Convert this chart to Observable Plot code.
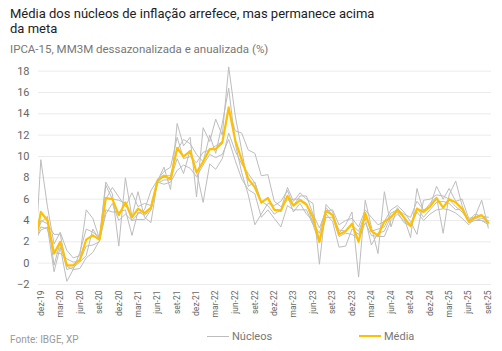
<!DOCTYPE html>
<html><head><meta charset="utf-8">
<script src="https://cdn.jsdelivr.net/npm/d3@7"></script>
<script src="https://cdn.jsdelivr.net/npm/@observablehq/plot@0.6"></script>
<style>
body{margin:0;background:#fff;font-family:Roboto,"Open Sans",sans-serif;}
#wrap{position:relative;width:502px;height:351px;overflow:hidden;background:#fff;}
#title{position:absolute;left:10px;top:6px;font-size:13px;line-height:15px;color:#222;}
#sub{position:absolute;left:10px;top:42px;font-size:11.5px;color:#777;}
#chart{position:absolute;left:0;top:58px;}
#fonte{position:absolute;left:10px;top:334px;font-size:10px;color:#999;}
.leg{position:absolute;top:329px;font-size:11px;color:#777;display:flex;align-items:center;height:14px;}
.sw{display:inline-block;width:22px;height:0;margin-right:3px;}
</style></head>
<body>
<div id="wrap">
  <div id="title">Média dos núcleos de inflação arrefece, mas permanece acima<br>da meta</div>
  <div id="sub">IPCA-15, MM3M dessazonalizada e anualizada (%)</div>
  <div id="chart"></div>
  <div id="fonte">Fonte: IBGE, XP</div>
  <div class="leg" style="left:207px"><span class="sw" style="border-top:1px solid #bdbdbd"></span>Núcleos</div>
  <div class="leg" style="left:359px"><span class="sw" style="border-top:2px solid #FFC000"></span>Média</div>
</div>
<script>
// meses: nov-19 .. set-25 (71 meses)
const nomesMes = ["jan","fev","mar","abr","mai","jun","jul","ago","set","out","nov","dez"];
const media = [1.6, 4.8, 4.0, 0.9, 2.0, -0.2, -0.2, 0.3, 2.2, 2.6,
  2.2, 6.1, 6.0, 4.5, 5.7, 4.3, 5.1, 4.7, 5.2, 7.7,
  8.2, 7.9, 10.8, 10.0, 10.5, 8.5, 9.5, 10.7, 10.7, 11.3,
  14.6, 11.5, 9.7, 7.9, 7.1, 5.7, 6.1, 5.0, 4.9, 6.3,
  5.4, 5.9, 5.5, 4.3, 2.0, 4.9, 4.5, 2.7, 3.0, 3.7,
  2.0, 4.7, 3.0, 2.6, 3.9, 4.3, 5.0, 4.3, 3.5, 5.1,
  4.8, 5.3, 6.1, 5.2, 6.0, 5.7, 5.1, 3.9, 4.3, 4.5,
  3.8];
const nucleoA = [-0.5, 9.7, 5.3, 1.8, 2.9, 1.2, 0.5, 0.7, 5.0, 4.2,
  2.3, 7.6, 6.5, 1.6, 8.0, 4.3, 6.7, 4.3, 3.8, 7.7,
  9.0, 6.9, 13.1, 11.0, 11.8, 6.2, 12.7, 11.4, 13.5, 12.0,
  18.4, 13.8, 10.6, 7.2, 7.6, 5.6, 6.2, 5.0, 5.0, 7.1,
  5.8, 6.6, 6.0, 5.6, -0.1, 5.5, 4.8, 2.8, 3.6, 4.8,
  -1.3, 5.9, 3.4, 0.9, 6.7, 3.4, 5.2, 4.3, 2.4, 7.0,
  4.8, 5.6, 6.2, 2.8, 6.4, 7.7, 5.4, 3.9, 4.4, 5.9,
  3.3];
const nucleoB = [2.3, 4.0, 3.7, 2.7, 2.7, -0.3, -0.6, 1.0, 3.2, 2.9,
  2.4, 6.0, 7.1, 6.2, 5.3, 6.6, 5.3, 5.6, 5.4, 7.9,
  8.2, 8.2, 10.6, 11.6, 11.2, 10.2, 9.5, 12.0, 10.3, 13.1,
  16.4, 11.2, 8.5, 6.4, 3.6, 4.6, 5.6, 5.4, 5.8, 6.8,
  5.4, 6.3, 6.3, 4.6, 3.3, 4.9, 5.0, 3.6, 4.0, 4.2,
  3.4, 5.0, 4.3, 3.6, 3.9, 5.0, 5.4, 4.8, 3.9, 2.7,
  5.9, 6.0, 6.4, 6.3, 6.0, 5.3, 4.8, 4.0, 4.6, 4.4,
  4.3];
const nucleoC = [2.2, 3.8, 4.4, -0.2, 2.0, -0.6, -0.4, 0.1, 0.7, 3.2,
  2.2, 7.3, 6.0, 5.9, 5.6, 4.0, 4.6, 5.0, 6.8, 7.8,
  8.6, 9.0, 11.8, 9.8, 10.0, 9.4, 10.4, 10.6, 11.0, 11.4,
  14.4, 12.4, 12.2, 10.6, 10.3, 8.2, 8.3, 5.8, 5.3, 5.9,
  6.0, 6.0, 5.6, 3.7, 2.8, 5.2, 4.5, 3.1, 3.0, 3.6,
  3.0, 4.6, 3.0, 3.2, 3.4, 4.7, 5.0, 4.6, 4.3, 5.8,
  5.0, 5.3, 7.2, 6.0, 7.0, 5.8, 6.0, 4.2, 4.3, 4.2,
  4.0];
const nucleoD = [2.0, 3.4, 3.2, 1.0, 0.9, 0.4, 0.1, 0.2, 1.6, 1.7,
  2.0, 5.0, 4.8, 4.8, 5.0, 2.6, 4.8, 4.5, 5.0, 7.5,
  7.8, 7.8, 9.8, 8.4, 10.6, 8.6, 5.7, 9.3, 8.8, 9.8,
  12.2, 10.5, 9.3, 8.4, 7.5, 5.8, 5.4, 4.6, 5.0, 6.3,
  4.8, 5.6, 4.6, 4.0, 2.1, 4.6, 3.9, 1.5, 1.6, 3.2,
  2.7, 4.2, 1.7, 2.8, 3.0, 4.4, 4.8, 3.8, 3.5, 5.2,
  4.3, 5.0, 5.7, 5.8, 5.6, 5.0, 5.1, 3.8, 4.0, 4.0,
  3.8];
const nucleoE = [2.0, 3.1, 3.4, -0.8, 1.5, -1.7, -0.6, -0.5, 0.5, 1.0,
  2.1, 4.6, 5.6, 4.0, 4.6, 4.0, 4.1, 4.1, 5.0, 7.6,
  7.4, 7.6, 8.7, 9.2, 8.9, 8.1, 9.2, 10.2, 9.9, 10.2,
  11.6, 9.6, 7.9, 6.9, 6.5, 4.3, 5.0, 4.2, 3.4, 5.4,
  5.0, 5.0, 5.0, 3.6, 1.9, 4.3, 4.3, 2.5, 2.8, 2.7,
  2.2, 3.8, 2.6, 2.5, 2.5, 4.0, 4.6, 4.0, 3.4, 4.8,
  4.0, 4.6, 5.0, 5.1, 5.0, 4.7, 4.2, 3.6, 4.2, 4.0,
  3.6];
const yTicks = [-2, 0, 2, 4, 6, 8, 10, 12, 14, 16, 18];

const meses = d3.utcMonth.range(new Date(Date.UTC(2019, 10, 1)), new Date(Date.UTC(2025, 9, 1)));
const tickMeses = meses.filter(d => d.getUTCMonth() % 3 === 2);
const fmt = d => `${nomesMes[d.getUTCMonth()]}-${String(d.getUTCFullYear()).slice(2)}`;

const nucleos = [["A", nucleoA], ["B", nucleoB], ["C", nucleoC], ["D", nucleoD], ["E", nucleoE]]
  .flatMap(([s, arr]) => arr.map((v, i) => ({s, date: meses[i], v})));
const mediaRows = media.map((v, i) => ({date: meses[i], v}));

const chart = Plot.plot({
  width: 502,
  height: 265,
  marginLeft: 38,
  marginRight: 11,
  marginTop: 2,
  marginBottom: 39,
  style: {fontFamily: "Roboto, sans-serif", background: "transparent", color: "#666"},
  x: {type: "utc", domain: [new Date(Date.UTC(2019, 10, 20)), new Date(Date.UTC(2025, 8, 16))], label: null},
  y: {domain: [-2, 19], label: null},
  marks: [
    Plot.gridY(yTicks, {stroke: "#ebebeb", strokeOpacity: 1, strokeWidth: 1}),
    Plot.axisY(yTicks, {tickSize: 0, tickPadding: 9, fontSize: 11, fill: "#666", label: null}),
    Plot.axisX(tickMeses, {tickFormat: fmt, tickRotate: -90, tickSize: 0, tickPadding: 6, fontSize: 8.5, fill: "#666", label: null}),
    Plot.lineY(nucleos, {x: "date", y: "v", z: "s", stroke: "#bdbdbd", strokeWidth: 1, clip: true}),
    Plot.lineY(mediaRows, {x: "date", y: "v", stroke: "#FFC000", strokeWidth: 2.2, clip: true})
  ]
});
document.getElementById("chart").appendChild(chart);
</script>
</body></html>
